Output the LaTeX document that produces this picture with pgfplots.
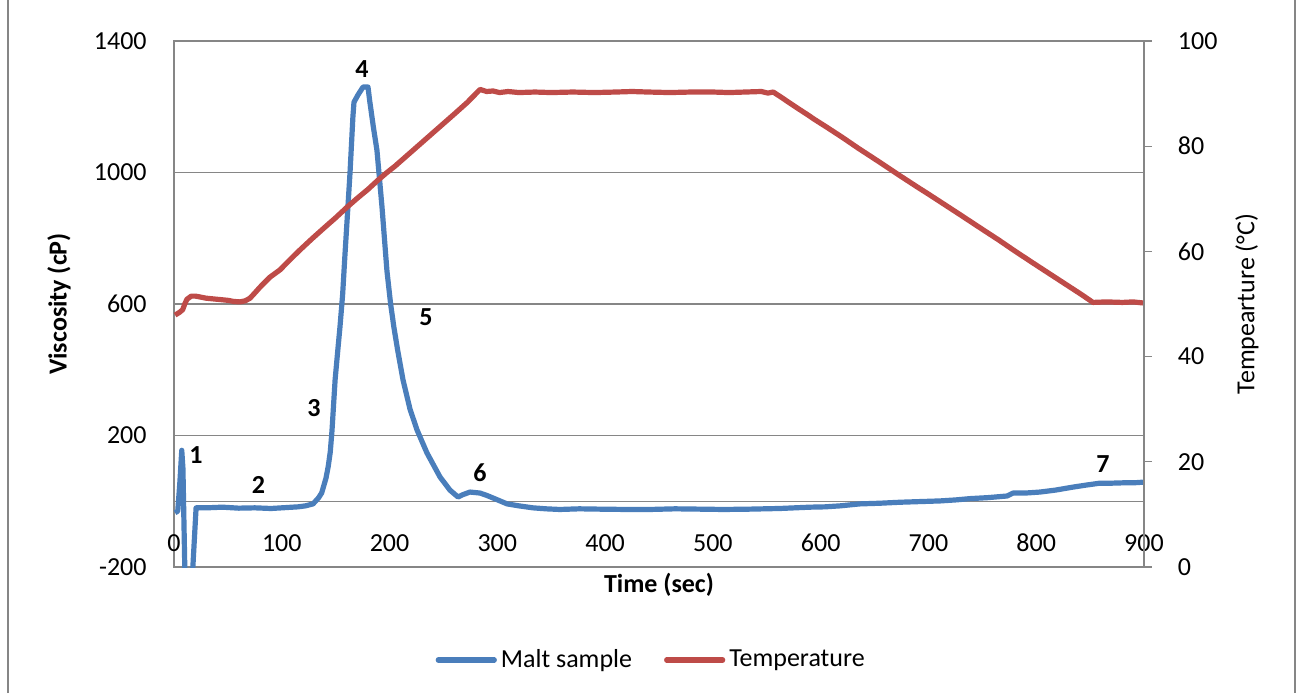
\documentclass[border=0pt]{standalone}
\usepackage{fontspec}
\setmainfont{Carlito}
\usepackage{pgfplots}
\pgfplotsset{compat=1.18}
\definecolor{maltblue}{RGB}{74,126,187}
\definecolor{tempred}{RGB}{190,75,72}
\definecolor{framegray}{RGB}{134,134,134}

\begin{document}
\fontsize{13pt}{15.6pt}\selectfont
\begin{tikzpicture}
\useasboundingbox (-87pt,-63pt) rectangle (561pt,283.5pt);
% chart area border
\draw[framegray, line width=0.6pt] (-83pt,-63pt) -- (-83pt,283.5pt);
\draw[framegray, line width=0.6pt] (560.5pt,-63pt) -- (560.5pt,283.5pt);

% viscosity (left axis)
\begin{axis}[
  at={(0,0)}, anchor=south west,
  scale only axis, width=485pt, height=263pt,
  xmin=0, xmax=900, ymin=-200, ymax=1400,
  xtick={0,100,...,900}, ytick={-200,200,600,1000,1400},
  extra y ticks={0}, extra y tick labels={},
  extra y tick style={grid=major},
  ymajorgrids,
  major grid style={framegray, line width=0.6pt},
  axis line style={framegray, line width=0.6pt},
  major tick length=0pt,
  /pgf/number format/assume math mode=true,
  /pgf/number format/1000 sep={},
  scaled ticks=false,
  yticklabel style={anchor=east, inner sep=0pt, xshift=-13.5pt},
  xticklabel style={anchor=center, inner sep=0pt, yshift=12pt},
  xlabel={\textbf{Time (sec)}},
  xlabel style={at={(axis description cs:0.5,-0.0342)}, anchor=center},
  ylabel={\textbf{Viscosity (cP)}},
  ylabel style={at={(axis description cs:-0.1186,0.5)}, anchor=center},
]
\addplot[maltblue, line width=2.6pt, line join=round] coordinates {
(1,-35) (3.5,-30) (5.5,60) (7.2,155) (8.3,100) (10,-200) (12.5,-320) (15,-320)
(17.5,-200) (20.5,-20) (30,-20) (45,-18) (60,-21) (75,-20) (90,-22) (105,-19)
(115,-17) (122,-14) (129,-8) (134,10) (137,25) (141,70) (143,104) (145,150)
(146.6,215) (148,290) (149.5,370) (152,460) (154,530) (156.5,630) (158.5,743)
(163.3,998) (166,1169) (167,1214) (170.7,1236) (175.4,1260) (180,1260)
(181.5,1220) (185,1138) (188.3,1068) (193,895) (197.6,700) (201,600) (204,530)
(207.5,460) (212.5,369) (219,280) (225.5,217) (234.7,147) (246.8,74) (256,34)
(263.5,13) (268,20) (274.6,28) (283.9,25) (290,18) (296,10) (309,-8) (320,-14)
(333,-20) (345,-23) (358,-25) (376,-23) (395,-24) (420,-25) (441.6,-25)
(465,-23) (488,-24) (510,-25) (534,-24) (548,-23) (562,-22) (576,-20) (590,-18)
(604,-17) (618,-14) (636.5,-8) (655,-6) (673.6,-3) (692,-1) (710.7,1) (725,4)
(738.6,8) (755,11) (773,16) (778.5,25) (790,25) (803.5,28) (818,34) (834,43)
(846,49) (859,55) (870,55) (880,56) (890,56) (899,58)
};
\node[font=\bfseries] at (axis cs:20.4,141) {1};
\node[font=\bfseries] at (axis cs:78.4,49) {2};
\node[font=\bfseries] at (axis cs:129.9,284) {3};
\node[font=\bfseries] at (axis cs:174.4,1315) {4};
\node[font=\bfseries] at (axis cs:233.8,560) {5};
\node[font=\bfseries] at (axis cs:283.9,86) {6};
\node[font=\bfseries] at (axis cs:862,113) {7};
\end{axis}

% temperature (right axis)
\begin{axis}[
  at={(0,0)}, anchor=south west,
  scale only axis, width=485pt, height=263pt,
  xmin=0, xmax=900, ymin=0, ymax=100,
  axis x line=none, axis y line*=right,
  ytick={0,20,...,100},
  axis line style={framegray, line width=0.6pt},
  tick align=outside, major tick length=3.8pt,
  tick style={framegray, line width=0.6pt},
  /pgf/number format/assume math mode=true,
  yticklabel style={anchor=west, inner sep=0pt, xshift=13pt},
  ylabel={Tempearture (°C)},
  ylabel style={at={(axis description cs:1.1062,0.5)}, anchor=center},
  legend style={at={(axis description cs:0.493,-0.1768)}, anchor=center,
    draw=none, fill=none, legend columns=2,
    /tikz/column 2/.style={column sep=14pt}},
  legend image code/.code={\draw[#1, line cap=round] (0pt,0pt) -- (28pt,0pt);},
]
\addlegendimage{maltblue, line width=2.6pt}
\addlegendentry{Malt sample}
\addplot[tempred, line width=2.6pt, line join=round] coordinates {
(1,47.9) (5,48.4) (8,48.9) (10,50.0) (12,50.9) (16,51.5) (20,51.5) (30,51.1)
(40,50.9) (50,50.7) (55,50.5) (61.2,50.4) (66,50.6) (70.5,51.1) (75,52.1)
(79.8,53.2) (89,55.1) (98.4,56.5) (108,58.5) (117,60.3) (128,62.4) (140,64.6)
(150,66.4) (160.5,68.4) (170,70.1) (180,71.8) (189,73.5) (197,74.9) (205,76.2)
(215,78.0) (230,80.7) (245,83.4) (260,86.1) (272,88.3) (284,90.8) (290,90.4)
(296,90.5) (302,90.2) (310,90.4) (320,90.2) (335,90.3) (350,90.2) (370,90.3)
(390,90.2) (410,90.3) (425,90.4) (440,90.3) (460,90.2) (480,90.3) (500,90.3)
(515,90.2) (530,90.3) (545,90.4) (551,90.1) (556,90.3) (562,89.5) (570,88.4)
(578,87.3) (587,86.1) (595,85.0) (605,83.7) (620,81.7) (635,79.6) (650,77.6)
(662.5,75.9) (675,74.2) (690,72.2) (700,70.9) (715,68.9) (730,66.9) (750,64.2)
(765,62.2) (780,60.1) (800,57.4) (815,55.4) (830,53.4) (842,51.8) (852.7,50.3)
(865,50.4) (880,50.3) (890,50.4) (899,50.2)
};
\addlegendentry{Temperature}
\end{axis}
\end{tikzpicture}
\end{document}
